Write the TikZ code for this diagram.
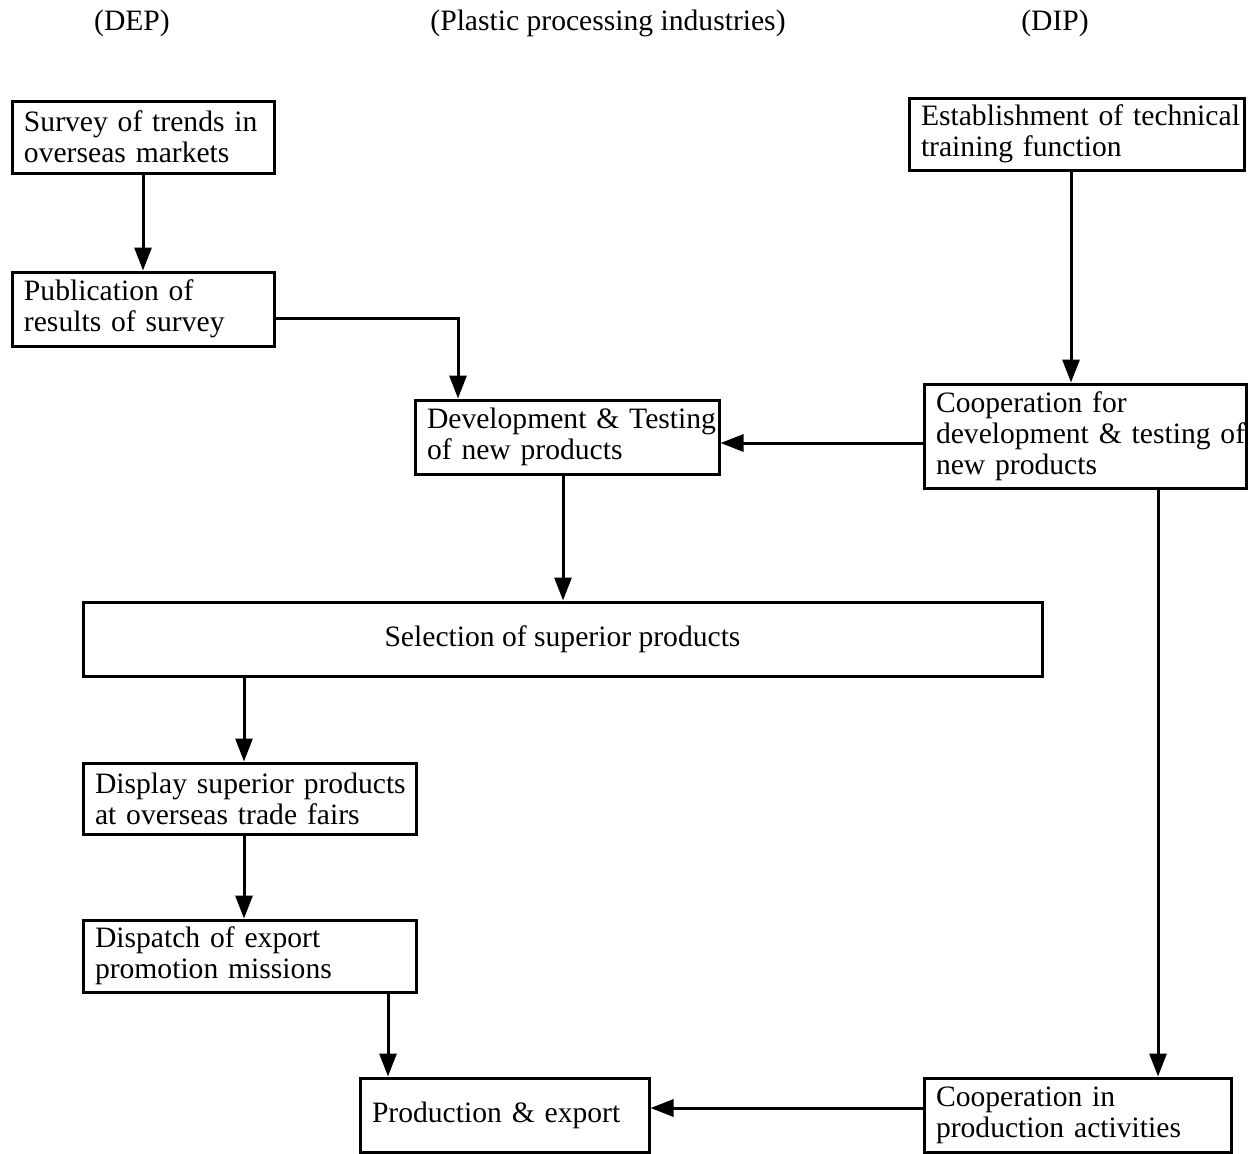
\documentclass[tikz,border=0pt]{standalone}
\usepackage{fontspec}
\setmainfont{Liberation Serif}
\usetikzlibrary{arrows.meta}
\begin{document}
\begin{tikzpicture}[x=0.5pt,y=-0.5pt,
  every node/.style={font=\fontsize{14.8}{15.5}\selectfont},
  box/.style={draw, line width=1.5pt, inner xsep=6pt, inner ysep=1pt, align=left},
  head/.style={inner sep=0pt},
  flow/.style={line width=1.5pt, -{Triangle[length=11.5pt,width=8.5pt]}}]
\useasboundingbox (0,0) rectangle (1256,1153);

% column headings
\node[head] (hdep) at (132,23) {(DEP)};
\node[head] (hind) at (608,23) {(Plastic processing industries)};
\node[head] (hdip) at (1055,23) {(DIP)};

% process boxes
\node[box, minimum width=131pt, minimum height=36pt, text width=119pt] (survey) at (143,137)
  {\mbox{Survey of trends in}\\ overseas markets};
\node[box, minimum width=131pt, minimum height=37pt, text width=119pt] (pub) at (143,309)
  {Publication of\\ results of survey};
\node[box, minimum width=152pt, minimum height=37pt, text width=140pt] (dev) at (567,437)
  {\mbox{Development \& Testing}\\ of new products};
\node[box, minimum width=167.5pt, minimum height=36pt, text width=155.5pt] (estab) at (1076.5,134)
  {\mbox{Establishment of technical}\\ training function};
\node[box, minimum width=161pt, minimum height=52pt, text width=149pt] (coopdev) at (1085,436)
  {Cooperation for\\ \mbox{development \& testing of}\\ new products};
\node[box, align=center, minimum width=479.5pt, minimum height=37pt] (select) at (562.5,639)
  {Selection of superior products};
\node[box, minimum width=166.5pt, minimum height=35.5pt, text width=154.5pt] (display) at (249.5,798.5)
  {\mbox{Display superior products}\\ at overseas trade fairs};
\node[box, minimum width=166.5pt, minimum height=36pt, text width=154.5pt] (dispatch) at (249.5,956)
  {Dispatch of export\\ promotion missions};
\node[box, minimum width=144.5pt, minimum height=37pt, text width=132.5pt] (prod) at (504.5,1115)
  {Production \& export};
\node[box, minimum width=153.5pt, minimum height=37pt, text width=141.5pt] (coopprod) at (1077.5,1115)
  {Cooperation in\\ \mbox{production activities}};

% connectors
\draw[flow] (survey.south) -- (pub.north);
\draw[flow] ([yshift=-4.5pt]pub.east) -| ([xshift=-54.5pt]dev.north);
\draw[flow] ([xshift=-2.75pt]estab.south) -- ([xshift=-2.75pt]estab.south |- coopdev.north);
\draw[flow] ([yshift=-3.5pt]coopdev.west) -- ([yshift=-3.5pt]coopdev.west -| dev.east);
\draw[flow] ([xshift=-2pt]dev.south) -- ([xshift=-2pt]dev.south |- select.north);
\draw[flow] ([xshift=-2.75pt]display.north |- select.south) -- ([xshift=-2.75pt]display.north);
\draw[flow] ([xshift=-2.75pt]display.south) -- ([xshift=-2.75pt]dispatch.north);
\draw[flow] ([xshift=-58.25pt]prod.north |- dispatch.south) -- ([xshift=-58.25pt]prod.north);
\draw[flow] ([xshift=40.25pt]coopprod.north |- coopdev.south) -- ([xshift=40.25pt]coopprod.north);
\draw[flow] ([yshift=3.5pt]coopprod.west) -- ([yshift=3.5pt]coopprod.west -| prod.east);
\end{tikzpicture}
\end{document}
